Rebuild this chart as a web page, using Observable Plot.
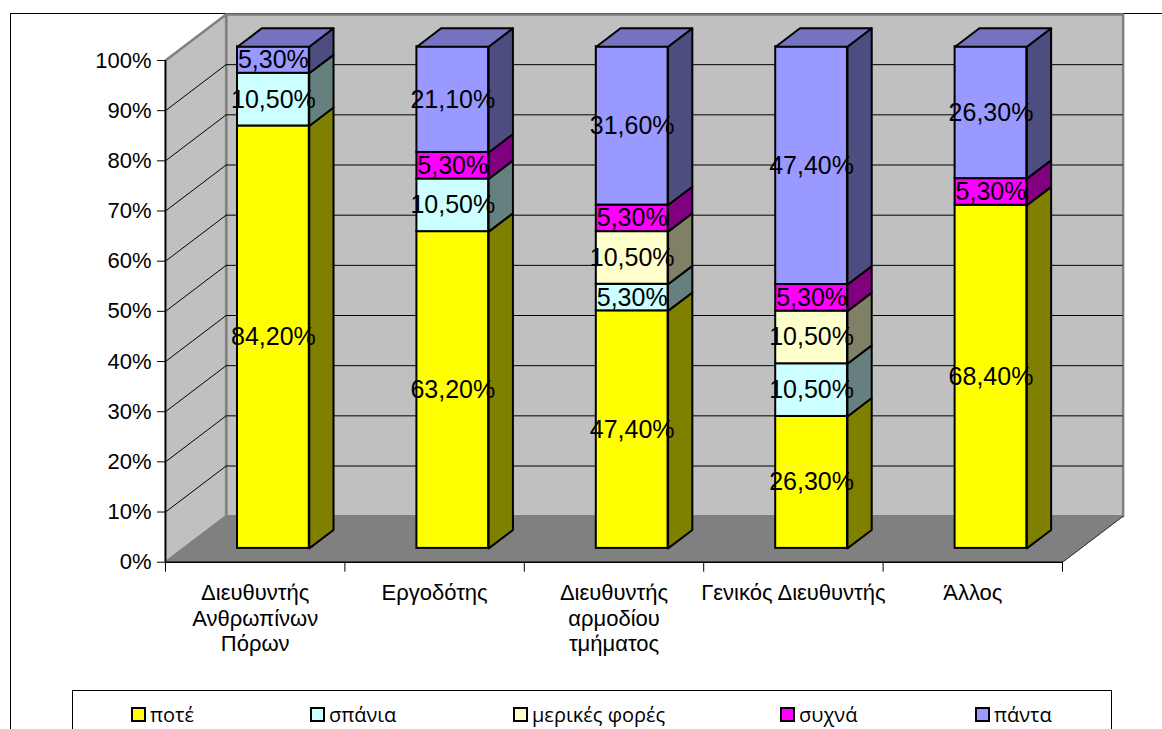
<!DOCTYPE html>
<html>
<head>
<meta charset="utf-8">
<script src="https://cdn.jsdelivr.net/npm/d3@7"></script>
<script src="https://cdn.jsdelivr.net/npm/@observablehq/plot@0.6"></script>
<style>
  html, body { margin: 0; padding: 0; background: #fff; }
  body { position: relative; width: 1162px; height: 729px; overflow: hidden; font-family: "Liberation Sans", Arial, sans-serif; }
  #frame { position: absolute; left: 10px; top: 13px; width: 1200px; height: 800px; border: 1.5px solid #000; z-index: 0; }
  #chart { position: absolute; left: 0; top: 0; z-index: 1; }
  #legend { position: absolute; left: 72px; top: 690px; width: 1038px; height: 60px; border: 1px solid #000; background: #fff; z-index: 2; }
  .item { position: absolute; top: 10px; display: flex; align-items: center; font-family: "Open Sans", sans-serif; font-size: 20px; color: #000; white-space: nowrap; }
  .swatch { width: 11px; height: 11px; border: 2px solid #000; margin-right: 4px; }
</style>
</head>
<body>
<div id="frame"></div>
<div id="chart"></div>
<div id="legend"></div>
<script>
// Who gives the instructions, by how often (percent of answers)
const categories = ["Διευθυντής\nΑνθρωπίνων\nΠόρων", "Εργοδότης", "Διευθυντής\nαρμοδίου\nτμήματος", "Γενικός Διευθυντής", "Άλλος"];
const seriesNames = ["ποτέ", "σπάνια", "μερικές φορές", "συχνά", "πάντα"];
const never     = [84.2, 63.2, 47.4, 26.3, 68.4];
const rarely    = [10.5, 10.5, 5.3, 10.5, 0];
const sometimes = [0, 0, 10.5, 10.5, 0];
const often     = [0, 5.3, 5.3, 5.3, 5.3];
const always    = [5.3, 21.1, 31.6, 47.4, 26.3];
const yTicks = [0, 10, 20, 30, 40, 50, 60, 70, 80, 90, 100];

const frontColors = ["#FFFF00", "#CCFFFF", "#FFFFCC", "#FF00FF", "#9999FF"];
const sideColors  = ["#808000", "#668080", "#808066", "#800080", "#4D4D80"];
const topColors   = ["#BFBF00", "#99BFBF", "#BFBF99", "#BF00BF", "#7373BF"];

const series = [never, rarely, sometimes, often, always];
const n = categories.length;

// Oblique projection of the 3-D box: depth 1 shifts right by DX categories and up by DY percent
const DX = 0.338, DY = 9.17;
const BAR_W = 0.4, D0 = 0.3, D1 = 0.7;
const proj = (x, y, d) => ({x: x + d * DX, y: y + d * DY});

// 100% stacked segments
const segments = [];
for (let i = 0; i < n; ++i) {
  const total = d3.sum(series, s => s[i]);
  let cum = 0;
  series.forEach((s, k) => {
    const v = s[i];
    if (v > 0) {
      segments.push({i, k, v, y0: cum / total * 100, y1: (cum + v) / total * 100});
      cum += v;
    }
  });
}
const xLeft = i => i + 0.5 - BAR_W / 2;
const xRight = i => i + 0.5 + BAR_W / 2;

// Side faces (right) and top faces of the bars as closed polygons
const sidePts = [];
const topPts = [];
segments.forEach((s, j) => {
  const xr = xRight(s.i), xl = xLeft(s.i);
  [[xr, s.y0, D0], [xr, s.y1, D0], [xr, s.y1, D1], [xr, s.y0, D1]].forEach(([x, y, d]) =>
    sidePts.push({...proj(x, y, d), id: "s" + j, fill: sideColors[s.k]}));
  const isTop = !segments.some(t => t.i === s.i && t.y0 >= s.y1 - 1e-9 && t !== s);
  if (isTop) {
    [[xl, s.y1, D0], [xr, s.y1, D0], [xr, s.y1, D1], [xl, s.y1, D1]].forEach(([x, y, d]) =>
      topPts.push({...proj(x, y, d), id: "t" + j, fill: topColors[s.k]}));
  }
});

// Walls and floor
const wallPts = [];
const addPoly = (id, fill, pts) => pts.forEach(([x, y, d]) => wallPts.push({...proj(x, y, d), id, fill}));
addPoly("back", "#C0C0C0", [[0, 0, 1], [n, 0, 1], [n, 100, 1], [0, 100, 1]]);
addPoly("side", "#C0C0C0", [[0, 0, 0], [0, 0, 1], [0, 100, 1], [0, 100, 0]]);
const floorPts = [[0, 0, 0], [n, 0, 0], [n, 0, 1], [0, 0, 1]].map(([x, y, d]) => ({...proj(x, y, d), id: "floor"}));

const grid = yTicks.filter(t => t > 0 && t < 100);
const fmt = v => v.toFixed(2).replace(".", ",") + "%";

const plot = Plot.plot({
  width: 1162,
  height: 690,
  marginLeft: 165,
  marginRight: 100,
  marginTop: 60,
  marginBottom: 128.3,
  x: {type: "linear", domain: [0, n], range: [165, 1062], label: null},
  y: {type: "linear", domain: [0, 100], range: [561.7, 60], label: null},
  color: {type: "identity"},
  style: {background: "transparent", color: "black", fontFamily: "'Liberation Sans', Arial, sans-serif", overflow: "visible"},
  marks: [
    // walls
    Plot.line(wallPts, {x: "x", y: "y", z: "id", fill: "fill", stroke: "#808080", strokeWidth: 2.5, curve: "linear-closed"}),
    Plot.line(floorPts, {x: "x", y: "y", z: "id", fill: "#808080", stroke: "#808080", strokeWidth: 1, curve: "linear-closed"}),
    Plot.link([n], {x1: d => d, y1: 0, x2: d => d + DX, y2: DY, stroke: "#333", strokeWidth: 1}),
    // gridlines on the back wall and on the side wall
    Plot.ruleY(grid, {y: d => d + DY, x1: DX, x2: n + DX, stroke: "#000", strokeWidth: 1}),
    Plot.link(grid, {x1: 0, y1: d => d, x2: DX, y2: d => d + DY, stroke: "#000", strokeWidth: 1}),
    // axes
    Plot.ruleX([0], {y1: 0, y2: 100, stroke: "#000", strokeWidth: 1.5}),
    Plot.ruleY([0], {x1: 0, x2: n, stroke: "#000", strokeWidth: 1.5}),
    Plot.axisY(yTicks, {tickSize: 8, tickPadding: 6, tickFormat: d => d + "%", fontSize: 22, stroke: "#000", label: null}),
    Plot.axisX(d3.range(n + 1), {tickSize: 10, tickFormat: () => "", stroke: "#000", label: null}),
    Plot.text(categories, {x: (d, i) => i + 0.5, y: 0, text: d => d, lineAnchor: "top", dy: 20, fontSize: 22, lineHeight: 1.16, fill: "#000"}),
    // bars
    Plot.rect(segments, {
      x1: d => proj(xLeft(d.i), 0, D0).x,
      x2: d => proj(xRight(d.i), 0, D0).x,
      y1: d => proj(0, d.y0, D0).y,
      y2: d => proj(0, d.y1, D0).y,
      fill: d => frontColors[d.k],
      stroke: "#000", strokeWidth: 2
    }),
    Plot.line(sidePts, {x: "x", y: "y", z: "id", fill: "fill", stroke: "#000", strokeWidth: 2, strokeLinejoin: "round", curve: "linear-closed"}),
    Plot.line(topPts, {x: "x", y: "y", z: "id", fill: "fill", stroke: "#000", strokeWidth: 2, strokeLinejoin: "round", curve: "linear-closed"}),
    // value labels
    Plot.text(segments, {
      x: d => proj(d.i + 0.5, 0, D0).x,
      y: d => proj(0, (d.y0 + d.y1) / 2, D0).y,
      text: d => fmt(d.v),
      fontSize: 25, fill: "#000"
    })
  ]
});
document.getElementById("chart").append(plot);

// Legend
const legendLeft = [58, 237, 440, 707, 902];
const legend = document.getElementById("legend");
seriesNames.forEach((name, k) => {
  const item = document.createElement("div");
  item.className = "item";
  item.style.left = legendLeft[k] + "px";
  const sw = document.createElement("div");
  sw.className = "swatch";
  sw.style.background = frontColors[k];
  const label = document.createElement("span");
  label.textContent = name;
  item.append(sw, label);
  legend.append(item);
});
</script>
</body>
</html>
